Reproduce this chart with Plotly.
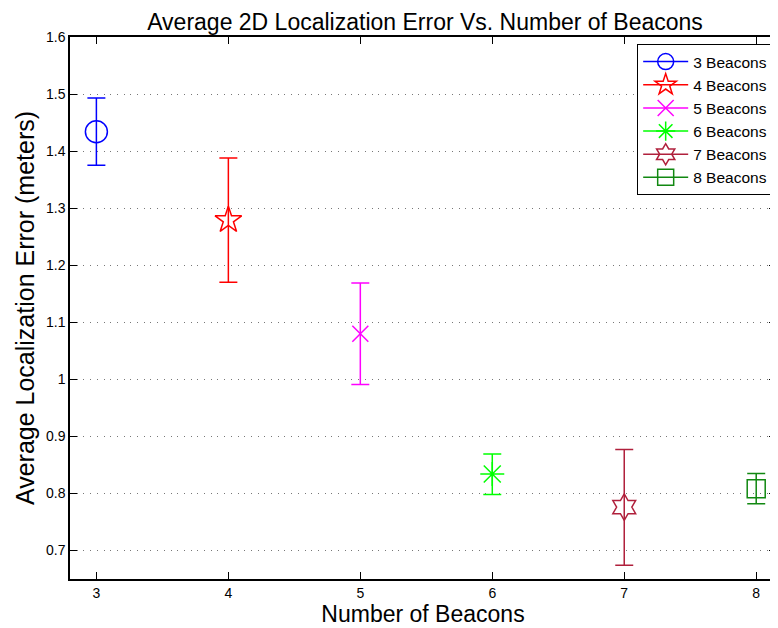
import plotly.graph_objects as go

beacons = [3, 4, 5, 6, 7, 8]
names = ["3 Beacons", "4 Beacons", "5 Beacons", "6 Beacons", "7 Beacons", "8 Beacons"]
mean_error = [1.434, 1.279, 1.080, 0.834, 0.776, 0.808]
err_plus = [0.059, 0.109, 0.089, 0.035, 0.101, 0.027]
err_minus = [0.059, 0.109, 0.089, 0.036, 0.102, 0.026]
colors = ["#0000FF", "#FF0000", "#FF00FF", "#00FF00", "#B0203C", "#118811"]
symbols = ["circle-open", "star-open", "x-thin-open", "asterisk-open", "hexagram-open", "square-open"]
sizes = [22, 20, 16, 20, 20, 18]

fig = go.Figure()
for i in range(len(beacons)):
    fig.add_trace(go.Scatter(
        x=[beacons[i]], y=[mean_error[i]], name=names[i],
        mode="lines+markers",
        line=dict(color=colors[i], width=1.5),
        marker=dict(symbol=symbols[i], size=sizes[i], color=colors[i],
                    line=dict(color=colors[i], width=1.5)),
        error_y=dict(type="data", symmetric=False, array=[err_plus[i]],
                     arrayminus=[err_minus[i]], color=colors[i],
                     thickness=1.5, width=9),
    ))

fig.update_layout(
    width=770, height=620,
    margin=dict(l=62, r=0, t=29, b=49),
    paper_bgcolor="white", plot_bgcolor="white",
    font=dict(family="Liberation Sans, Arial, sans-serif", color="black"),
    title=dict(text="Average 2D Localization Error Vs. Number of Beacons",
               x=0.5416, xanchor="center", y=0.978, yanchor="middle",
               font=dict(size=23)),
    xaxis=dict(range=[2.8, 8.15], tickvals=beacons, ticktext=[str(b) for b in beacons],
               showgrid=False, zeroline=False, showline=True, linecolor="black",
               linewidth=1.5, mirror="ticks", ticks="inside", ticklen=7,
               tickcolor="black", tickfont=dict(size=14),
               title=dict(text="Number of Beacons", font=dict(size=23), standoff=4)),
    yaxis=dict(range=[0.65, 1.6], tickvals=[0.7, 0.8, 0.9, 1.0, 1.1, 1.2, 1.3, 1.4, 1.5, 1.6],
               ticktext=["0.7", "0.8", "0.9", "1", "1.1", "1.2", "1.3", "1.4", "1.5", "1.6"],
               showgrid=True, gridcolor="#777777", griddash="1px,5.7px", gridwidth=1,
               zeroline=False, showline=True, linecolor="black", linewidth=1.5,
               mirror="ticks", ticks="inside", ticklen=7, tickcolor="black",
               tickfont=dict(size=14),
               title=dict(text="Average Localization Error (meters)", font=dict(size=25), standoff=4)),
    legend=dict(x=0.996, y=0.987, xanchor="right", yanchor="top",
                bordercolor="black", borderwidth=1, bgcolor="white",
                font=dict(size=15.5), itemwidth=45, tracegroupgap=0),
)

fig.write_html("out.html")
